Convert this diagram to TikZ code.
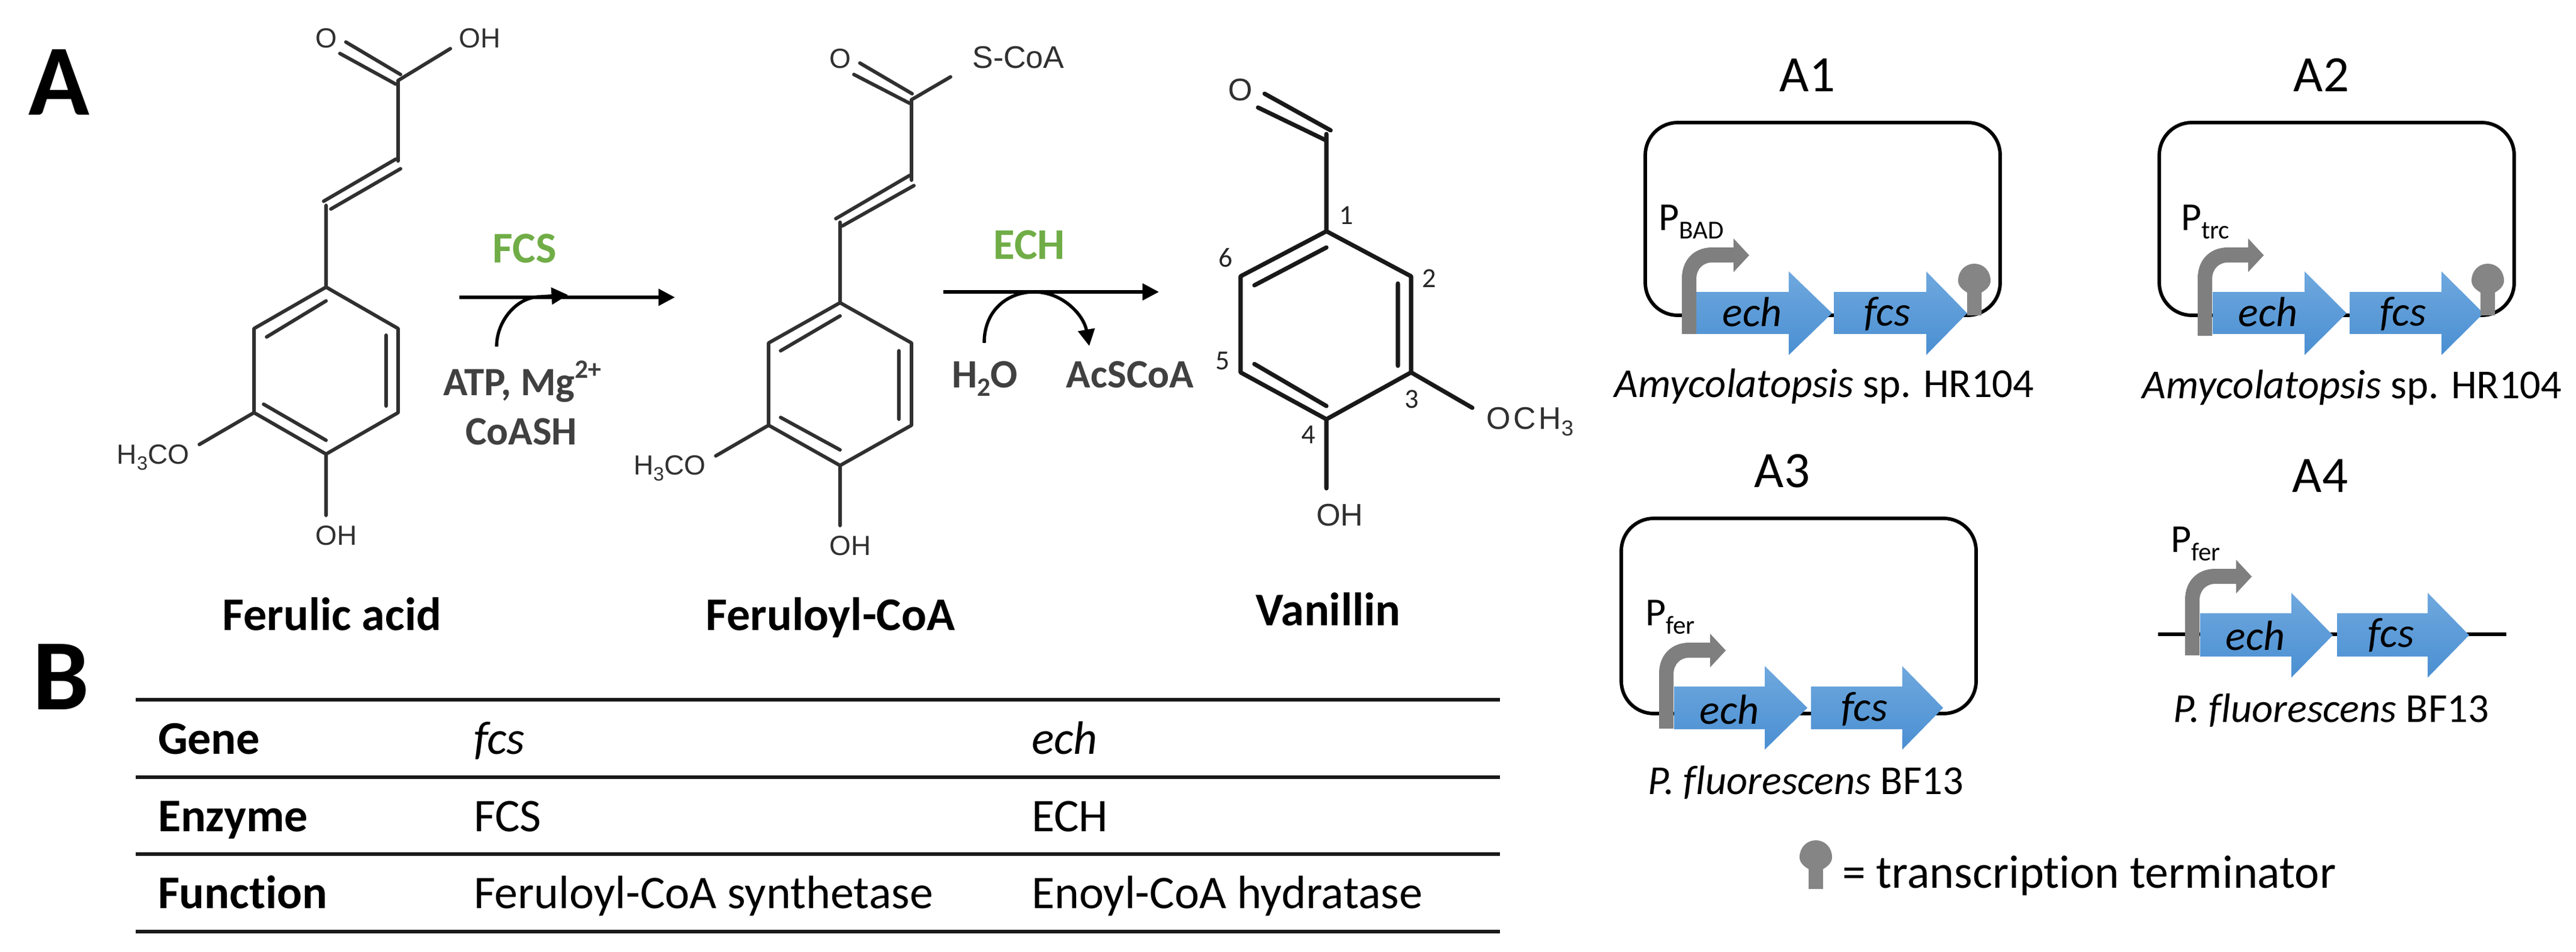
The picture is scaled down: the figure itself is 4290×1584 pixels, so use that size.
\documentclass[tikz,border=0pt]{standalone}
\usepackage{fontspec}
\usetikzlibrary{arrows.meta}
\setmainfont[Ligatures=NoCommon]{Carlito}
\newfontfamily\chemf{Liberation Sans}
\newcommand{\px}[1]{\fontsize{\the\dimexpr#1pt*24/100\relax}{\the\dimexpr#1pt*29/100\relax}\selectfont}
\newcommand{\lowr}[2]{\raisebox{-.22em}{\px{#1}#2}}
\newcommand{\highr}[2]{\raisebox{.42em}{\px{#1}#2}}
\definecolor{grn}{HTML}{70AD47}
\definecolor{dk}{HTML}{404040}
\definecolor{chemk}{HTML}{303030}
\definecolor{prm}{HTML}{7F7F7F}
\definecolor{trm}{HTML}{858585}
\definecolor{gtop}{HTML}{6FA8DE}
\definecolor{gbot}{HTML}{4A8FD2}
\tikzset{
 lab/.style={inner sep=0pt,outer sep=0pt},
 bond/.style={line width=1.4pt,color=chemk,line join=round,line cap=round},
 bondv/.style={line width=1.7pt,color=black!90,line join=round,line cap=round},
 chem/.style={lab,font=\chemf\px{46},text=chemk},
 hdg/.style={lab,anchor=base,font=\bfseries\px{78}},
 big/.style={lab,font=\bfseries\px{168}},
 enz/.style={lab,anchor=base,font=\bfseries\px{73},text=grn},
 cof/.style={lab,anchor=base,font=\bfseries\px{67},text=dk},
 num/.style={lab,font=\px{46},text=black!85},
 rxn/.style={line width=1.3pt,-{Triangle[length=6.6pt,width=6.6pt]}},
 tabrule/.style={line width=1.4pt,color=black!90},
 tb/.style={lab,anchor=base west,font=\px{78}},
 tit/.style={lab,anchor=base,font=\px{85}},
 capt/.style={lab,anchor=base,font=\px{68.5}},
 gname/.style={lab,font=\itshape\px{70}},
 pl/.style={line width=1.4pt,color=black},
 pname/.style={lab,anchor=base west,font=\px{66}},
}
% gene arrow: x0, xhead, xtip, ybody-top, ybody-bot, yhead-top, yhead-bot
\newcommand{\gene}[7]{\shade[top color=gtop,bottom color=gbot] (#1,#4) -- (#2,#4) -- (#2,#6) -- (#3,{(#6+#7)/2}) -- (#2,#7) -- (#2,#5) -- (#1,#5) -- cycle;}
% promoter: x, ybot, ycentre, xtip
\newcommand{\prom}[4]{\fill[prm] (#1,#2) -- (#1,{#3+38}) .. controls (#1,{#3+8}) and ({#1+20},{#3-13}) .. ({#1+50},{#3-13}) -- ({#4-26},{#3-13}) -- ({#4-26},{#3-28}) -- (#4,#3) -- ({#4-26},{#3+28}) -- ({#4-26},{#3+12}) -- ({#1+50},{#3+12}) .. controls ({#1+36},{#3+12}) and ({#1+24},{#3+22}) .. ({#1+24},{#3+40}) -- ({#1+24},#2) -- cycle;}
% terminator: xc, ycentre, ybot
\newcommand{\term}[3]{\fill[trm] ({#1-12},#3) -- ({#1-12},{#2+20}) .. controls ({#1-22},{#2+14}) and ({#1-27},{#2+8}) .. ({#1-27},#2) .. controls ({#1-27},{#2-16}) and ({#1-15},{#2-28}) .. (#1,{#2-28}) .. controls ({#1+15},{#2-28}) and ({#1+27},{#2-16}) .. ({#1+27},#2) .. controls ({#1+27},{#2+8}) and ({#1+22},{#2+14}) .. ({#1+12},{#2+20}) -- ({#1+12},#3) -- cycle;}
\begin{document}
\begin{tikzpicture}[x=0.24pt,y=-0.24pt]
\useasboundingbox (0,0) rectangle (4290,1584);
\fill[white] (0,0) rectangle (4290,1584);
% panel letters
\node[big] (pA) at (98,137) {A};
\node[big] (pB) at (102,1127) {B};
% ---------- Ferulic acid
\draw[bond] (543,478) -- (663,547) -- (663,687) -- (543,756) -- (423,687) -- (423,547) -- cycle;
\draw[bond] (444,561) -- (543,501) (643,558) -- (643,676) (439,673) -- (543,733);
\draw[bond] (543,478) -- (543,342) (539,335) -- (659,265) (551,348) -- (667,281) (663,268) -- (663,134) (566,89) -- (659,140) (576,70) -- (667,124) (663,134) -- (750,81);
\draw[bond] (423,687) -- (332,740) (543,756) -- (543,858);
\node[chem] (f1) at (543,64) {O};
\node[chem] (f2) at (799,64) {OH};
\node[chem,anchor=base] (f3) at (255,772) {H\lowr{32}{3}CO};
\node[chem] (f4) at (560,892) {OH};
\node[hdg] (n1) at (553,1049) {Ferulic acid};
% ---------- Feruloyl-CoA
\draw[bond] (1399,504) -- (1518,571) -- (1518,708) -- (1399,775) -- (1280,708) -- (1280,571) -- cycle;
\draw[bond] (1300,584) -- (1399,526) (1497,584) -- (1497,698) (1300,695) -- (1399,749);
\draw[bond] (1399,504) -- (1399,370) (1392,364) -- (1515,292) (1403,376) -- (1522,309) (1518,300) -- (1518,166) (1422,124) -- (1515,172) (1432,105) -- (1519,156) (1518,166) -- (1583,128);
\draw[bond] (1280,708) -- (1192,759) (1399,775) -- (1399,875);
\node[chem] (g1) at (1399,98) {O};
\node[chem,font=\chemf\px{52}] (g2) at (1696,96) {S-CoA};
\node[chem,anchor=base] (g3) at (1115,790) {H\lowr{32}{3}CO};
\node[chem] (g4) at (1416,909) {OH};
\node[hdg] (n2) at (1383,1049) {Feruloyl-CoA};
% ---------- Vanillin
\draw[bondv] (2209,385) -- (2350,460) -- (2350,620) -- (2209,698) -- (2066,620) -- (2066,460) -- cycle;
\draw[bondv] (2089,475) -- (2209,412) (2328,472) -- (2328,609) (2089,606) -- (2209,676);
\draw[bondv] (2209,385) -- (2209,223) (2095,179) -- (2207,233) (2106,156) -- (2216,217) (2350,620) -- (2452,679) (2209,698) -- (2209,813);
\node[chem,font=\chemf\px{52}] (v1) at (2066,150) {O};
\node[chem,font=\chemf\px{52}\addfontfeature{LetterSpace=9}] (v2) at (2548,702) {OCH\lowr{36}{3}};
\node[chem,font=\chemf\px{52}] (v3) at (2231,858) {OH};
\node[num] (c1) at (2242,359) {1};
\node[num] (c2) at (2380,464) {2};
\node[num] (c3) at (2351,665) {3};
\node[num] (c4) at (2179,724) {4};
\node[num] (c5) at (2036,601) {5};
\node[num] (c6) at (2041,429) {6};
\node[hdg] (n3) at (2212,1041) {Vanillin};
% ---------- reaction FCS
\coordinate (r1a) at (765,495);
\coordinate (r1b) at (1124,495);
\coordinate (r1c) at (827,577);
\coordinate (r1d) at (946,491);
\draw[rxn] (r1a) -- (r1b);
\draw[rxn] (r1c) .. controls (827,535) and (860,494) .. (900,494) -- (r1d);
\node[enz] (e1) at (874,437) {FCS};
\node[cof] (k1) at (870,658) {ATP, Mg\highr{44}{2+}};
\node[cof] (k2) at (868,740) {CoASH};
% ---------- reaction ECH
\coordinate (r2a) at (1571,486);
\coordinate (r2b) at (1930,486);
\coordinate (r2c) at (1639,571);
\coordinate (r2d) at (1814,576);
\draw[rxn] (r2a) -- (r2b);
\draw[rxn] (r2c) .. controls (1639,515) and (1680,486) .. (1722,486) .. controls (1770,486) and (1805,525) .. (r2d);
\node[enz] (e2) at (1714,431) {ECH};
\node[cof] (k3) at (1640,645) {H\lowr{44}{2}O};
\node[cof] (k4) at (1882,645) {AcSCoA};
% ---------- table
\coordinate (tl1) at (226,1165); \coordinate (tr1) at (2498,1165);
\coordinate (tl2) at (226,1294); \coordinate (tr2) at (2498,1294);
\coordinate (tl3) at (226,1422); \coordinate (tr3) at (2498,1422);
\coordinate (tl4) at (226,1551); \coordinate (tr4) at (2498,1551);
\draw[tabrule] (tl1) -- (tr1);
\draw[tabrule] (tl2) -- (tr2);
\draw[tabrule] (tl3) -- (tr3);
\draw[tabrule] (tl4) -- (tr4);
\node[tb,font=\bfseries\px{78}] (t11) at (263,1255) {Gene};
\node[tb,font=\itshape\px{78}] (t12) at (789,1255) {fcs};
\node[tb,font=\itshape\px{78}] (t13) at (1718,1255) {ech};
\node[tb,font=\bfseries\px{78}] (t21) at (263,1384) {Enzyme};
\node[tb] (t22) at (789,1384) {FCS};
\node[tb] (t23) at (1718,1384) {ECH};
\node[tb,font=\bfseries\px{78}] (t31) at (263,1512) {Function};
\node[tb] (t32) at (789,1512) {Feruloyl-CoA synthetase};
\node[tb] (t33) at (1718,1512) {Enoyl-CoA hydratase};
% ---------- A1
\node[tit] (a1) at (3010,152) {A1};
\draw[pl,rounded corners=13pt] (2740,204) rectangle (3331,525);
\gene{2825}{2979}{3051}{486}{556}{452}{591}
\gene{3054}{3208}{3276}{486}{556}{452}{591}
\prom{2801}{556}{425}{2913}
\term{3288}{467}{525}
\node[gname] (a1e) at (2918,519) {ech};
\node[gname] (a1f) at (3143,523) {fcs};
\node[pname] (a1p) at (2762,383) {P\lowr{43}{BAD}};
\node[capt] (a1c) at (3038,661) {\textit{Amycolatopsis} sp. HR104};
% ---------- A2
\node[tit] (a2) at (3866,152) {A2};
\draw[pl,rounded corners=13pt] (3596,204) rectangle (4187,525);
\gene{3685}{3838}{3908}{486}{556}{452}{591}
\gene{3913}{4066}{4136}{486}{556}{452}{591}
\prom{3660}{559}{425}{3770}
\term{4143}{467}{525}
\node[gname] (a2e) at (3777,519) {ech};
\node[gname] (a2f) at (4002,523) {fcs};
\node[pname] (a2p) at (3632,383) {P\lowr{43}{trc}};
\node[capt] (a2c) at (3917,663) {\textit{Amycolatopsis} sp. HR104};
% ---------- A3
\node[tit] (a3) at (2968,811) {A3};
\draw[pl,rounded corners=13pt] (2700,863) rectangle (3291,1188);
\gene{2788}{2939}{3010}{1143}{1214}{1109}{1248}
\gene{3016}{3168}{3236}{1143}{1214}{1109}{1248}
\prom{2763}{1213}{1083}{2874}
\node[gname] (a3e) at (2880,1181) {ech};
\node[gname] (a3f) at (3105,1181) {fcs};
\node[pname] (a3p) at (2740,1041) {P\lowr{43}{fer}};
\node[capt] (a3c) at (3007,1322) {\textit{P.\ fluorescens} BF13};
% ---------- A4
\node[tit] (a4) at (3864,819) {A4};
\coordinate (a4l) at (3594,1056);
\coordinate (a4r) at (4174,1056);
\draw[pl] (a4l) -- (a4r);
\gene{3664}{3816}{3885}{1021}{1093}{987}{1128}
\gene{3892}{4043}{4112}{1021}{1093}{987}{1128}
\prom{3639}{1091}{960}{3750}
\node[gname] (a4e) at (3756,1058) {ech};
\node[gname] (a4f) at (3982,1058) {fcs};
\node[pname] (a4p) at (3615,919) {P\lowr{43}{fer}};
\node[capt] (a4c) at (3882,1202) {\textit{P.\ fluorescens} BF13};
% ---------- legend
\term{3024}{1427}{1480}
\node[lab,anchor=base west,font=\px{78}] (leg) at (3068,1478) {= transcription terminator};
\end{tikzpicture}
\end{document}
